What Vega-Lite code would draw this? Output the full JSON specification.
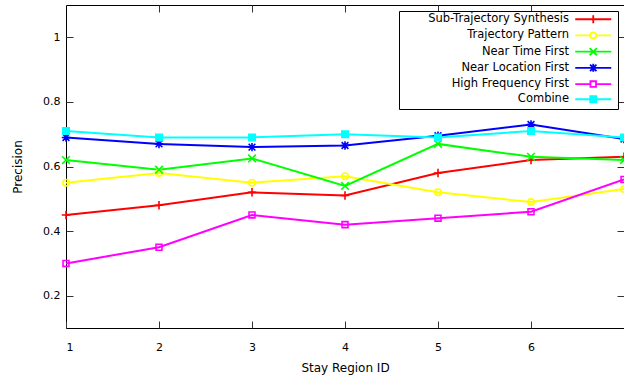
{
  "$schema": "https://vega.github.io/schema/vega-lite/v6.json",
  "width": 558,
  "height": 323,
  "autosize": "none",
  "padding": {"left": 66, "top": 5, "right": 0, "bottom": 53},
  "background": "white",
  "config": {
    "font": "DejaVu Sans",
    "view": {"stroke": "#000000", "strokeWidth": 1},
    "axis": {
      "grid": false,
      "domain": false,
      "tickSize": -7,
      "tickColor": "#333333",
      "tickWidth": 1,
      "labelFont": "DejaVu Sans",
      "labelFontSize": 11,
      "labelColor": "#000000",
      "titleFont": "DejaVu Sans",
      "titleFontSize": 12,
      "titleFontWeight": "normal",
      "titleColor": "#000000"
    }
  },
  "data": {
    "values": [
      {"x": 1, "series": "Sub-Trajectory Synthesis", "y": 0.45},
      {"x": 2, "series": "Sub-Trajectory Synthesis", "y": 0.48},
      {"x": 3, "series": "Sub-Trajectory Synthesis", "y": 0.52},
      {"x": 4, "series": "Sub-Trajectory Synthesis", "y": 0.51},
      {"x": 5, "series": "Sub-Trajectory Synthesis", "y": 0.58},
      {"x": 6, "series": "Sub-Trajectory Synthesis", "y": 0.62},
      {"x": 7, "series": "Sub-Trajectory Synthesis", "y": 0.63},
      {"x": 1, "series": "Trajectory Pattern", "y": 0.55},
      {"x": 2, "series": "Trajectory Pattern", "y": 0.58},
      {"x": 3, "series": "Trajectory Pattern", "y": 0.55},
      {"x": 4, "series": "Trajectory Pattern", "y": 0.57},
      {"x": 5, "series": "Trajectory Pattern", "y": 0.52},
      {"x": 6, "series": "Trajectory Pattern", "y": 0.49},
      {"x": 7, "series": "Trajectory Pattern", "y": 0.53},
      {"x": 1, "series": "Near Time First", "y": 0.62},
      {"x": 2, "series": "Near Time First", "y": 0.59},
      {"x": 3, "series": "Near Time First", "y": 0.625},
      {"x": 4, "series": "Near Time First", "y": 0.54},
      {"x": 5, "series": "Near Time First", "y": 0.67},
      {"x": 6, "series": "Near Time First", "y": 0.63},
      {"x": 7, "series": "Near Time First", "y": 0.62},
      {"x": 1, "series": "Near Location First", "y": 0.69},
      {"x": 2, "series": "Near Location First", "y": 0.67},
      {"x": 3, "series": "Near Location First", "y": 0.66},
      {"x": 4, "series": "Near Location First", "y": 0.665},
      {"x": 5, "series": "Near Location First", "y": 0.695},
      {"x": 6, "series": "Near Location First", "y": 0.73},
      {"x": 7, "series": "Near Location First", "y": 0.685},
      {"x": 1, "series": "High Frequency First", "y": 0.30},
      {"x": 2, "series": "High Frequency First", "y": 0.35},
      {"x": 3, "series": "High Frequency First", "y": 0.45},
      {"x": 4, "series": "High Frequency First", "y": 0.42},
      {"x": 5, "series": "High Frequency First", "y": 0.44},
      {"x": 6, "series": "High Frequency First", "y": 0.46},
      {"x": 7, "series": "High Frequency First", "y": 0.56},
      {"x": 1, "series": "Combine", "y": 0.71},
      {"x": 2, "series": "Combine", "y": 0.69},
      {"x": 3, "series": "Combine", "y": 0.69},
      {"x": 4, "series": "Combine", "y": 0.70},
      {"x": 5, "series": "Combine", "y": 0.69},
      {"x": 6, "series": "Combine", "y": 0.71},
      {"x": 7, "series": "Combine", "y": 0.69}
    ]
  },
  "encoding": {
    "color": {
      "field": "series",
      "type": "nominal",
      "scale": {
        "domain": ["Sub-Trajectory Synthesis", "Trajectory Pattern", "Near Time First", "Near Location First", "High Frequency First", "Combine"],
        "range": ["#ff0000", "#ffff00", "#00ff00", "#0000ff", "#ff00ff", "#00ffff"]
      },
      "legend": {
        "title": null,
        "orient": "top-right",
        "offset": 6,
        "padding": 2.5,
        "strokeColor": "#000000",
        "fillColor": "#ffffff",
        "rowPadding": 1.2,
        "symbolSize": 64,
        "symbolStrokeWidth": 1.6,
        "symbolOffset": 186,
        "labelOffset": -30,
        "labelAlign": "right",
        "labelFont": "DejaVu Sans",
        "labelFontSize": 11.5,
        "labelColor": "#000000",
        "labelLimit": 300,
        "encode": {
          "symbols": {
            "update": {
              "shape": {"signal": "datum.value === 'Sub-Trajectory Synthesis' ? 'M-4.5,0L4.5,0M0,-1L0,1' : datum.value === 'Trajectory Pattern' ? 'M-4.5,0L-0.75,0M0.75,0L4.5,0M0.75,0A0.75,0.75 0 1,1 -0.75,0A0.75,0.75 0 1,1 0.75,0Z' : datum.value === 'Near Time First' ? 'M-4.5,0L4.5,0M-0.9,-0.9L0.9,0.9M-0.9,0.9L0.9,-0.9' : datum.value === 'Near Location First' ? 'M-4.5,0L4.5,0M0,-1L0,1M-0.8,-0.8L0.8,0.8M-0.8,0.8L0.8,-0.8' : datum.value === 'High Frequency First' ? 'M-4.5,0L-0.7,0M0.7,0L4.5,0M-0.7,-0.7L0.7,-0.7L0.7,0.7L-0.7,0.7Z' : 'M-4.5,0L4.5,0M-0.75,-0.75L0.75,-0.75L0.75,0.75L-0.75,0.75Z'"},
              "fill": {"signal": "datum.value === 'Combine' ? '#00ffff' : 'transparent'"},
              "stroke": {"signal": "scale('color', datum.value)"},
              "strokeWidth": {"value": 1.8},
              "opacity": {"value": 1}
            }
          }
        }
      }
    }
  },
  "layer": [
    {
      "mark": {"type": "line", "strokeWidth": 2},
      "encoding": {
        "x": {
          "field": "x",
          "type": "quantitative",
          "scale": {"domain": [1, 7], "nice": false, "zero": false},
          "axis": {"values": [1, 2, 3, 4, 5, 6], "title": "Stay Region ID", "labelPadding": 20, "titlePadding": 10, "labelAngle": 0}
        },
        "y": {
          "field": "y",
          "type": "quantitative",
          "scale": {"domain": [0.1, 1.1], "nice": false, "zero": false},
          "axis": {"values": [0.2, 0.4, 0.6, 0.8, 1], "title": "Precision", "labelPadding": 13, "titlePadding": 18, "labelExpr": "datum.value == 1 ? '1' : format(datum.value, '.1f')"}
        }
      }
    },
    {
      "mark": {"type": "point", "strokeWidth": 1.6, "opacity": 1, "size": 72},
      "encoding": {
        "x": {
          "field": "x",
          "type": "quantitative",
          "axis": {"orient": "top", "values": [2, 3, 4, 5, 6], "labels": false, "title": null}
        },
        "y": {
          "field": "y",
          "type": "quantitative",
          "axis": {"orient": "right", "values": [0.2, 0.4, 0.6, 0.8, 1], "labels": false, "title": null}
        },
        "shape": {
          "condition": [
            {"test": "datum.series === 'Sub-Trajectory Synthesis'", "value": "M-1,0L1,0M0,-1L0,1"},
            {"test": "datum.series === 'Trajectory Pattern'", "value": "M0.75,0A0.75,0.75 0 1,1 -0.75,0A0.75,0.75 0 1,1 0.75,0Z"},
            {"test": "datum.series === 'Near Time First'", "value": "M-0.9,-0.9L0.9,0.9M-0.9,0.9L0.9,-0.9"},
            {"test": "datum.series === 'Near Location First'", "value": "M-1,0L1,0M0,-1L0,1M-0.8,-0.8L0.8,0.8M-0.8,0.8L0.8,-0.8"},
            {"test": "datum.series === 'High Frequency First'", "value": "M-0.7,-0.7L0.7,-0.7L0.7,0.7L-0.7,0.7Z"}
          ],
          "value": "M-0.75,-0.75L0.75,-0.75L0.75,0.75L-0.75,0.75Z"
        },
        "fill": {
          "condition": {"test": "datum.series === 'Combine'", "value": "#00ffff"},
          "value": "transparent"
        }
      }
    }
  ],
  "resolve": {"axis": {"x": "independent", "y": "independent"}}
}
